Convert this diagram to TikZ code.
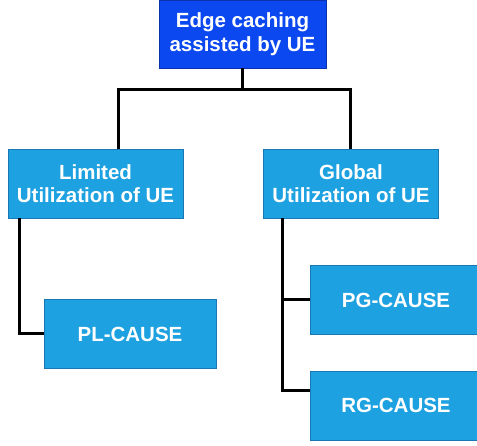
\documentclass[tikz,border=0pt]{standalone}
\usepackage{fontspec}
\setmainfont{Liberation Sans}
\definecolor{rootblue}{RGB}{12,72,240}
\definecolor{rootedge}{RGB}{10,50,170}
\definecolor{boxblue}{RGB}{29,161,224}
\definecolor{boxedge}{RGB}{25,120,180}
\begin{document}
\begin{tikzpicture}[x=1pt, y=-1pt,
  every node/.style = {shape=rectangle, draw=boxedge, fill=boxblue,
    text=white, align=center, inner sep=0pt, line width=0.8pt,
    font=\bfseries\fontsize{20.5}{23.5}\selectfont},
  root/.style = {fill=rootblue, draw=rootedge, minimum width=167pt, minimum height=68pt},
  cat/.style = {minimum width=175pt, minimum height=69pt},
  leaf/.style = {minimum width=172pt, minimum height=69pt},
  conn/.style = {draw=black, line width=3pt}
  ]
  \useasboundingbox (0,0) rectangle (477,446);
  \node[root] (top) at (242.5,34) {Edge caching\\assisted by UE};
  \node[cat] (lim) at (95.5,183.5) {Limited\\Utilization of UE};
  \node[cat] (glob) at (351,183.5) {Global\\Utilization of UE};
  \node[leaf] (pl) at (130,334) {PL-CAUSE};
  \node[leaf] (pg) at (396,300) {PG-CAUSE};
  \node[leaf] (rg) at (396,405.5) {RG-CAUSE};
  % tree lines
  \coordinate (barL) at (118,90);
  \coordinate (barR) at (350,90);
  \coordinate (gtrunk) at ([xshift=19pt]glob.south west);
  \draw[conn] (top.south) -- (top.south |- barL);
  \draw[conn] (barL |- lim.north) |- (barR) -- (barR |- glob.north);
  \draw[conn] ([xshift=12pt]lim.south west) |- (pl.west);
  \draw[conn] (gtrunk) |- ([yshift=15pt]rg.west);
  \draw[conn] (pg.west) -- (pg.west -| gtrunk);
\end{tikzpicture}
\end{document}
